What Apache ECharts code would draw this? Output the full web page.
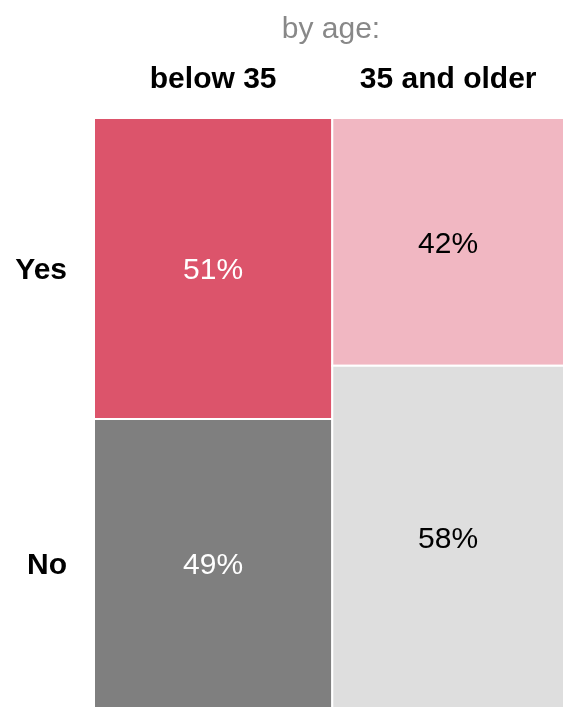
<!DOCTYPE html>
<html>
<head>
<meta charset="utf-8">
<script src="https://cdn.jsdelivr.net/npm/echarts@6/dist/echarts.min.js"></script>
<style>
  html, body { margin: 0; padding: 0; background: #fff; }
  #chart { width: 564px; height: 708px; }
</style>
</head>
<body>
<div id="chart"></div>
<script>
// Survey answers split by age group (mosaic layout)
const ageGroups = ['below 35', '35 and older'];
const groupShares = [50.7, 49.3];          // column width, % of respondents
const answers = ['Yes', 'No'];
const yesPercent = [51, 42];
const noPercent = [49, 58];

const FONT = '"Liberation Sans", Arial, sans-serif';
const SIZE = 30;
const fills = [
  ['#DC546B', '#7F7F7F'],   // below 35: Yes, No
  ['#F1B7C2', '#DEDEDE']    // 35 and older: Yes, No
];
const labelColors = ['#ffffff', '#000000'];

// Build the tiles: [x0, x1, y0, y1, groupIndex, answerIndex, percent]
const tiles = [];
let xStart = 0;
ageGroups.forEach((g, gi) => {
  const xEnd = xStart + groupShares[gi] / 100;
  const parts = [yesPercent[gi], noPercent[gi]];
  let yStart = 0;
  parts.forEach((p, ai) => {
    const yEnd = yStart + p / 100;
    tiles.push([xStart, xEnd, yStart, yEnd, gi, ai, p]);
    yStart = yEnd;
  });
  xStart = xEnd;
});

const chart = echarts.init(document.getElementById('chart'), null, { renderer: 'canvas' });

chart.setOption({
  animation: false,
  backgroundColor: '#ffffff',
  grid: { left: 94, right: -1, top: 118, bottom: -1 },
  xAxis: { type: 'value', min: 0, max: 1, show: false },
  yAxis: { type: 'value', min: 0, max: 1, inverse: true, show: false },
  graphic: [{
    type: 'text',
    x: 331,
    y: 30,
    style: {
      text: 'by age:',
      font: SIZE + 'px ' + FONT,
      fill: '#888888',
      align: 'center',
      verticalAlign: 'middle'
    }
  }],
  series: [{
    type: 'custom',
    data: tiles,
    encode: { x: [0, 1], y: [2, 3] },
    renderItem: function (params, api) {
      const p0 = api.coord([api.value(0), api.value(2)]);
      const p1 = api.coord([api.value(1), api.value(3)]);
      const gi = api.value(4), ai = api.value(5), pct = api.value(6);
      const cx = (p0[0] + p1[0]) / 2;
      const cy = (p0[1] + p1[1]) / 2 + 2.5;
      const children = [{
        type: 'rect',
        shape: { x: p0[0], y: p0[1], width: p1[0] - p0[0], height: p1[1] - p0[1] },
        style: { fill: fills[gi][ai], stroke: '#ffffff', lineWidth: 2 }
      }, {
        type: 'text',
        x: cx, y: cy,
        style: {
          text: pct + '%',
          font: SIZE + 'px ' + FONT,
          fill: labelColors[gi],
          align: 'center',
          verticalAlign: 'middle'
        }
      }];
      // column header above each age group
      if (ai === 0) {
        children.push({
          type: 'text',
          x: cx, y: 80,
          style: {
            text: ageGroups[gi],
            font: 'bold ' + SIZE + 'px ' + FONT,
            fill: '#000000',
            align: 'center',
            verticalAlign: 'middle'
          }
        });
      }
      // answer labels at the left, level with the first column's tiles
      if (gi === 0) {
        children.push({
          type: 'text',
          x: 67, y: cy,
          style: {
            text: answers[ai],
            font: 'bold ' + SIZE + 'px ' + FONT,
            fill: '#000000',
            align: 'right',
            verticalAlign: 'middle'
          }
        });
      }
      return { type: 'group', children: children };
    }
  }]
});
</script>
</body>
</html>
